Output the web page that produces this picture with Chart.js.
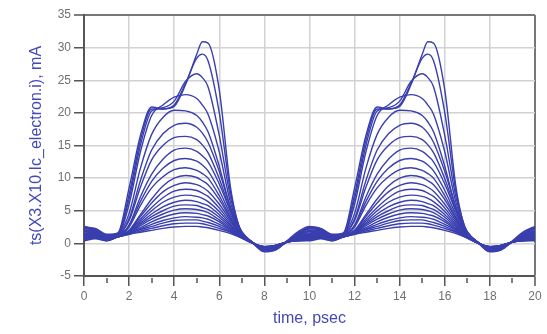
<!DOCTYPE html>
<html>
<head>
<meta charset="utf-8">
<script src="https://cdn.jsdelivr.net/npm/chart.js@4.4.0/dist/chart.umd.min.js"></script>
<style>
  html, body { margin: 0; padding: 0; background: #fff; }
  #wrap { width: 547px; height: 334px; }
</style>
</head>
<body>
<div id="wrap"><canvas id="icChart" width="547" height="334"></canvas></div>
<script>
// time axis, psec
const times = [0,0.5,1,1.5,2,2.5,3,3.5,4,4.5,5,5.25,5.5,6,6.5,7,7.5,8,8.5,9,9.5,
               10,10.5,11,11.5,12,12.5,13,13.5,14,14.5,15,15.25,15.5,16,16.5,17,17.5,18,18.5,19,19.5,20];

// collector current family, mA (largest first)
const ic01 = [2.6,2.2,1.3,1.6,8.5,16.5,20.9,20.6,21.0,24.3,29.0,30.9,30.7,23.5,8.5,1.4,0.0,-1.3,-1.0,0.4,1.8, 2.6,2.2,1.3,1.6,8.5,16.5,20.9,20.6,21.0,24.3,29.0,30.9,30.7,23.5,8.5,1.4,0.0,-1.3,-1.0,0.4,1.8, 2.6];
const ic02 = [2.5,2.3,1.4,1.5,7.5,15.8,20.6,20.6,21.2,24.5,28.4,29.0,28.0,20.0,7.8,1.5,0.0,-1.2,-1.0,0.3,1.6, 2.5,2.3,1.4,1.5,7.5,15.8,20.6,20.6,21.2,24.5,28.4,29.0,28.0,20.0,7.8,1.5,0.0,-1.2,-1.0,0.3,1.6, 2.5];
const ic03 = [2.4,2.1,1.2,1.5,6.8,15.0,20.3,20.8,21.8,24.8,26.0,25.4,24.0,16.5,7.0,1.6,0.0,-1.2,-0.9,0.3,1.5, 2.4,2.1,1.2,1.5,6.8,15.0,20.3,20.8,21.8,24.8,26.0,25.4,24.0,16.5,7.0,1.6,0.0,-1.2,-0.9,0.3,1.5, 2.4];
const ic04 = [2.3,2.0,1.3,1.4,6.0,14.0,19.6,21.2,22.4,22.8,22.2,21.2,19.8,14.0,6.2,1.7,0.1,-1.1,-0.9,0.3,1.4, 2.3,2.0,1.3,1.4,6.0,14.0,19.6,21.2,22.4,22.8,22.2,21.2,19.8,14.0,6.2,1.7,0.1,-1.1,-0.9,0.3,1.4, 2.3];
const ic05 = [2.2,2.2,1.1,1.4,4.6,11.5,16.7,19.3,20.4,20.3,19.6,18.6,17.1,11.8,5.4,1.7,0.1,-1.0,-0.8,0.3,1.3, 2.2,2.2,1.1,1.4,4.6,11.5,16.7,19.3,20.4,20.3,19.6,18.6,17.1,11.8,5.4,1.7,0.1,-1.0,-0.8,0.3,1.3, 2.2];
const ic06 = [2.0,2.0,1.2,1.3,3.8,9.6,14.3,16.8,18.1,18.4,17.8,16.9,15.5,11.0,5.5,1.8,0.1,-1.0,-0.8,0.2,1.2, 2.0,2.0,1.2,1.3,3.8,9.6,14.3,16.8,18.1,18.4,17.8,16.9,15.5,11.0,5.5,1.8,0.1,-1.0,-0.8,0.2,1.2, 2.0];
const ic07 = [1.9,1.8,1.0,1.3,3.5,8.6,12.8,15.0,16.2,16.4,15.9,15.1,13.9,9.9,5.0,1.6,0.1,-0.9,-0.7,0.3,1.1, 1.9,1.8,1.0,1.3,3.5,8.6,12.8,15.0,16.2,16.4,15.9,15.1,13.9,9.9,5.0,1.6,0.1,-0.9,-0.7,0.3,1.1, 1.9];
const ic08 = [1.8,1.9,1.1,1.2,2.8,7.1,10.6,12.9,14.3,14.6,14.1,13.4,12.5,9.1,4.9,1.6,0.1,-0.9,-0.7,0.2,1.0, 1.8,1.9,1.1,1.2,2.8,7.1,10.6,12.9,14.3,14.6,14.1,13.4,12.5,9.1,4.9,1.6,0.1,-0.9,-0.7,0.2,1.0, 1.8];
const ic09 = [1.6,1.7,0.9,1.2,2.7,6.4,9.5,11.5,12.7,13.0,12.6,12.0,11.1,8.1,4.4,1.5,0.1,-0.8,-0.6,0.2,0.9, 1.6,1.7,0.9,1.2,2.7,6.4,9.5,11.5,12.7,13.0,12.6,12.0,11.1,8.1,4.4,1.5,0.1,-0.8,-0.6,0.2,0.9, 1.6];
const ic10 = [1.5,1.6,1.0,1.1,2.5,5.8,8.5,10.2,11.3,11.6,11.2,10.7,10.0,7.3,4.0,1.4,0.1,-0.8,-0.6,0.3,0.9, 1.5,1.6,1.0,1.1,2.5,5.8,8.5,10.2,11.3,11.6,11.2,10.7,10.0,7.3,4.0,1.4,0.1,-0.8,-0.6,0.3,0.9, 1.5];
const ic11 = [1.4,1.5,0.8,1.1,2.0,4.4,6.8,8.8,10.0,10.4,10.1,9.6,9.0,6.7,3.8,1.4,0.1,-0.7,-0.5,0.2,0.8, 1.4,1.5,0.8,1.1,2.0,4.4,6.8,8.8,10.0,10.4,10.1,9.6,9.0,6.7,3.8,1.4,0.1,-0.7,-0.5,0.2,0.8, 1.4];
const ic12 = [1.3,1.4,0.9,1.1,1.9,4.1,6.2,7.9,8.9,9.3,9.0,8.6,8.0,6.0,3.5,1.3,0.1,-0.7,-0.5,0.2,0.8, 1.3,1.4,0.9,1.1,1.9,4.1,6.2,7.9,8.9,9.3,9.0,8.6,8.0,6.0,3.5,1.3,0.1,-0.7,-0.5,0.2,0.8, 1.3];
const ic13 = [1.2,1.3,0.7,1.0,1.9,3.7,5.5,7.0,8.0,8.3,8.1,7.7,7.2,5.4,3.2,1.3,0.0,-0.7,-0.4,0.2,0.7, 1.2,1.3,0.7,1.0,1.9,3.7,5.5,7.0,8.0,8.3,8.1,7.7,7.2,5.4,3.2,1.3,0.0,-0.7,-0.4,0.2,0.7, 1.2];
const ic14 = [1.1,1.2,0.8,1.0,1.8,3.4,5.0,6.3,7.1,7.4,7.2,6.9,6.4,4.9,2.9,1.2,0.0,-0.6,-0.4,0.2,0.7, 1.1,1.2,0.8,1.0,1.8,3.4,5.0,6.3,7.1,7.4,7.2,6.9,6.4,4.9,2.9,1.2,0.0,-0.6,-0.4,0.2,0.7, 1.1];
const ic15 = [1.0,1.1,0.6,1.0,1.7,3.1,4.5,5.6,6.3,6.6,6.4,6.1,5.8,4.4,2.7,1.1,0.0,-0.6,-0.4,0.2,0.6, 1.0,1.1,0.6,1.0,1.7,3.1,4.5,5.6,6.3,6.6,6.4,6.1,5.8,4.4,2.7,1.1,0.0,-0.6,-0.4,0.2,0.6, 1.0];
const ic16 = [0.9,1.1,0.7,1.0,1.7,2.9,4.1,5.0,5.7,5.9,5.8,5.5,5.2,4.0,2.5,1.1,0.0,-0.6,-0.3,0.2,0.6, 0.9,1.1,0.7,1.0,1.7,2.9,4.1,5.0,5.7,5.9,5.8,5.5,5.2,4.0,2.5,1.1,0.0,-0.6,-0.3,0.2,0.6, 0.9];
const ic17 = [0.8,1.0,0.5,1.0,1.6,2.7,3.7,4.5,5.1,5.3,5.2,5.0,4.7,3.6,2.3,1.0,0.0,-0.5,-0.3,0.2,0.5, 0.8,1.0,0.5,1.0,1.6,2.7,3.7,4.5,5.1,5.3,5.2,5.0,4.7,3.6,2.3,1.0,0.0,-0.5,-0.3,0.2,0.5, 0.8];
const ic18 = [0.7,0.9,0.6,1.0,1.6,2.4,3.3,4.0,4.5,4.7,4.6,4.4,4.2,3.3,2.1,1.0,0.0,-0.5,-0.3,0.2,0.5, 0.7,0.9,0.6,1.0,1.6,2.4,3.3,4.0,4.5,4.7,4.6,4.4,4.2,3.3,2.1,1.0,0.0,-0.5,-0.3,0.2,0.5, 0.7];
const ic19 = [0.6,0.9,0.5,1.0,1.5,2.2,2.9,3.5,3.9,4.1,4.0,3.9,3.7,2.9,2.0,0.9,0.0,-0.5,-0.3,0.2,0.5, 0.6,0.9,0.5,1.0,1.5,2.2,2.9,3.5,3.9,4.1,4.0,3.9,3.7,2.9,2.0,0.9,0.0,-0.5,-0.3,0.2,0.5, 0.6];
const ic20 = [0.6,0.8,0.4,1.0,1.5,2.1,2.6,3.1,3.5,3.6,3.6,3.4,3.2,2.6,1.8,0.9,0.0,-0.5,-0.3,0.2,0.4, 0.6,0.8,0.4,1.0,1.5,2.1,2.6,3.1,3.5,3.6,3.6,3.4,3.2,2.6,1.8,0.9,0.0,-0.5,-0.3,0.2,0.4, 0.6];
const ic21 = [0.5,0.8,0.5,1.0,1.4,1.9,2.3,2.7,3.0,3.1,3.1,3.0,2.8,2.3,1.7,0.8,0.0,-0.5,-0.3,0.2,0.4, 0.5,0.8,0.5,1.0,1.4,1.9,2.3,2.7,3.0,3.1,3.1,3.0,2.8,2.3,1.7,0.8,0.0,-0.5,-0.3,0.2,0.4, 0.5];
const ic22 = [0.4,0.7,0.4,1.0,1.4,1.7,2.0,2.3,2.5,2.6,2.6,2.5,2.4,2.0,1.5,0.8,0.0,-0.5,-0.3,0.2,0.4, 0.4,0.7,0.4,1.0,1.4,1.7,2.0,2.3,2.5,2.6,2.6,2.5,2.4,2.0,1.5,0.8,0.0,-0.5,-0.3,0.2,0.4, 0.4];

const curves = [ic01, ic02, ic03, ic04, ic05, ic06, ic07, ic08, ic09, ic10, ic11,
                ic12, ic13, ic14, ic15, ic16, ic17, ic18, ic19, ic20, ic21, ic22];

// minor x ticks (odd psec)
const minorTicks = [1,3,5,7,9,11,13,15,17,19];

const lineColor = '#3a3fae';
const titleColor = '#4549b8';
const tickFont = { family: "'Liberation Sans', Arial, sans-serif", size: 12 };
const titleFont = { family: "'Liberation Sans', Arial, sans-serif", size: 16 };

// short tick marks between the labelled ones
const minorTickPlugin = {
    id: 'minorTicks',
    afterDraw(chart) {
        const xs = chart.scales.x;
        const y0 = chart.chartArea.bottom;
        const ctx = chart.ctx;
        ctx.save();
        ctx.strokeStyle = '#555';
        ctx.lineWidth = 1.5;
        minorTicks.forEach(v => {
            const px = Math.round(xs.getPixelForValue(v));
            ctx.beginPath();
            ctx.moveTo(px, y0 + 2);
            ctx.lineTo(px, y0 + 7);
            ctx.stroke();
        });
        ctx.restore();
    }
};

const ctx = document.getElementById('icChart').getContext('2d');
const icChart = new Chart(ctx, {
    type: 'line',
    data: {
        datasets: curves.map(c => ({
            data: times.map((t, i) => ({ x: t, y: c[i] })),
            borderColor: lineColor,
            borderWidth: 1.4,
            pointRadius: 0,
            fill: false,
            cubicInterpolationMode: 'monotone'
        }))
    },
    options: {
        responsive: false,
        animation: false,
        devicePixelRatio: 1,
        layout: { padding: { left: 23, top: 15, right: 12, bottom: 0 } },
        plugins: {
            legend: { display: false },
            tooltip: { enabled: false }
        },
        scales: {
            x: {
                type: 'linear',
                min: 0,
                max: 20,
                afterFit: s => { s.height = 58; },
                ticks: { stepSize: 2, color: '#707070', font: tickFont, padding: 3, maxRotation: 0 },
                grid: {
                    color: c => c.tick && c.tick.value === 20 ? '#777' : '#d2d2d2',
                    lineWidth: c => c.tick && c.tick.value === 20 ? 2 : 1.5,
                    tickLength: 10,
                    tickColor: '#555',
                    tickWidth: 1.5
                },
                border: { color: '#555', width: 2 },
                title: { display: true, text: 'time, psec', color: titleColor, font: titleFont, padding: { top: 2, bottom: 6 } }
            },
            y: {
                min: -5,
                max: 35,
                afterFit: s => { s.width = 61; },
                ticks: { stepSize: 5, color: '#707070', font: tickFont, padding: 3 },
                grid: {
                    color: c => c.tick && c.tick.value === 35 ? '#777' : '#d2d2d2',
                    lineWidth: c => c.tick && c.tick.value === 35 ? 2 : 1.5,
                    tickLength: 10,
                    tickColor: '#555',
                    tickWidth: 1.5
                },
                border: { color: '#555', width: 2 },
                title: { display: true, text: 'ts(X3.X10.Ic_electron.i), mA', color: titleColor, font: titleFont, padding: { top: 4, bottom: 2 } }
            }
        }
    },
    plugins: [minorTickPlugin]
});
</script>
</body>
</html>
